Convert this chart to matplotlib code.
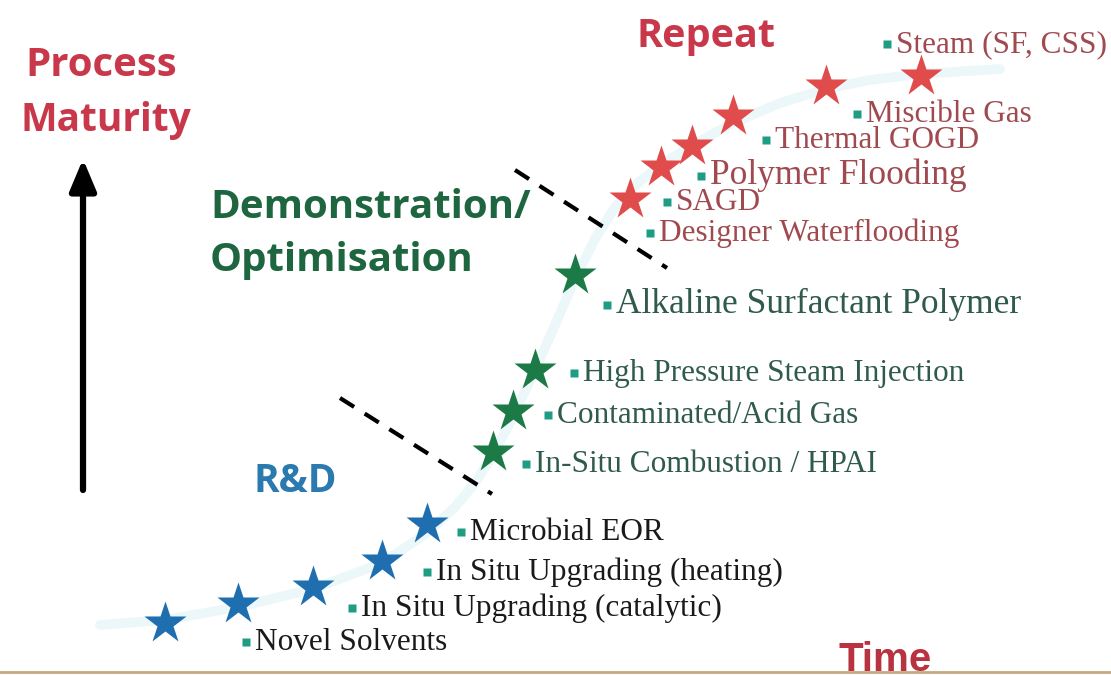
import matplotlib.pyplot as plt

# star positions (time, maturity) in pixel-like units
rd_time = [165, 238, 313, 382, 427]
rd_level = [52, 71, 88, 114, 151]
demo_time = [493, 513, 535, 575]
demo_level = [223, 264, 305, 400]
rep_time = [630, 661, 692, 733, 826, 921]
rep_level = [476, 508, 529, 559, 589, 599]

# faint trend curve behind the stars
trend_time = [100, 165, 238, 313, 382, 427, 455, 475, 493, 513, 535, 555, 575,
              595, 615, 640, 670, 700, 733, 780, 826, 870, 921, 1000]
trend_level = [50, 55, 68, 86, 112, 142, 168, 192, 220, 258, 305, 350, 396,
                436, 468, 494, 516, 534, 552, 572, 586, 595, 601, 606]

rd_labels = ["Novel Solvents", "In Situ Upgrading (catalytic)",
             "In Situ Upgrading (heating)", "Microbial EOR"]
rd_lx = [246, 352, 427, 461]
rd_ly = [33, 67, 103, 143]

demo_labels = ["In-Situ Combustion / HPAI", "Contaminated/Acid Gas",
               "High Pressure Steam Injection", "Alkaline Surfactant Polymer"]
demo_lx = [526, 548, 574, 607]
demo_ly = [211, 260, 302, 370]

rep_labels = ["Designer Waterflooding", "SAGD", "Polymer Flooding",
              "Thermal GOGD", "Miscible Gas", "Steam (SF, CSS)"]
rep_lx = [650, 667, 701, 766, 857, 887]
rep_ly = [442, 473, 499, 535, 561, 631]

big_labels = ["Alkaline Surfactant Polymer", "Polymer Flooding"]

fig = plt.figure(figsize=(11.11, 6.75), dpi=100)
ax = fig.add_axes([0, 0, 1, 1])
ax.set_xlim(0, 1111)
ax.set_ylim(0, 675)
ax.axis('off')

ax.plot(trend_time, trend_level, color='#ecf7fa', lw=7, solid_capstyle='round',
        solid_joinstyle='round', zorder=1)

ax.plot(rd_time, rd_level, '*', color='#1f6fb0', ms=32, mec='none', zorder=3)
ax.plot(demo_time, demo_level, '*', color='#1b7a45', ms=32, mec='none', zorder=3)
ax.plot(rep_time, rep_level, '*', color='#e04b4b', ms=32, mec='none', zorder=3)


def put_labels(labels, lx, ly, color):
    for lab, x, y in zip(labels, lx, ly):
        size = 25.5 if lab in big_labels else 22.5
        ax.plot(x, y, 's', color='#1e9c84', ms=5.5, mec='none', zorder=3)
        ax.text(x + 9, y - 8, lab, fontsize=size, color=color,
                family='Liberation Serif', va='baseline', ha='left', zorder=4)


put_labels(rd_labels, rd_lx, rd_ly, '#1a1a1a')
put_labels(demo_labels, demo_lx, demo_ly, '#2f5a4c')
put_labels(rep_labels, rep_lx, rep_ly, '#a04a50')

# stage boundaries
ax.plot([340, 492], [277, 181], color='black', lw=3, ls=(0, (4, 3)), zorder=2)
ax.plot([515, 667], [505, 407], color='black', lw=3, ls=(0, (4, 3)), zorder=2)

# maturity arrow
ax.annotate('', xy=(83, 516), xytext=(83, 185),
            arrowprops=dict(arrowstyle='-|>,head_width=0.4,head_length=0.95',
                            mutation_scale=20, color='black', lw=4.5,
                            shrinkA=0, shrinkB=0))

head = dict(family='Open Sans', fontweight='bold')
ax.text(101, 610, 'Process', fontsize=29, color='#c8384a', ha='center', va='center', **head)
ax.text(106, 555, 'Maturity', fontsize=28, color='#c8384a', ha='center', va='center', **head)
ax.text(706, 638, 'Repeat', fontsize=28.5, color='#c8384a', ha='center', va='center', **head)
ax.text(210, 467, 'Demonstration/', fontsize=29, color='#1e6640',
        ha='left', va='center', **head)
ax.text(210, 415, 'Optimisation', fontsize=29, color='#1e6640',
        ha='left', va='center', **head)
ax.text(295, 193, 'R&D', fontsize=28, color='#2a7ab0', ha='center', va='center', **head)
ax.text(885, 4, 'Time', fontsize=29, color='#b8323f', ha='center', va='baseline',
        family='Liberation Sans', fontweight='bold')

ax.axhline(3, color='#c8a880', lw=2)

fig.savefig('out.png', dpi=100)
